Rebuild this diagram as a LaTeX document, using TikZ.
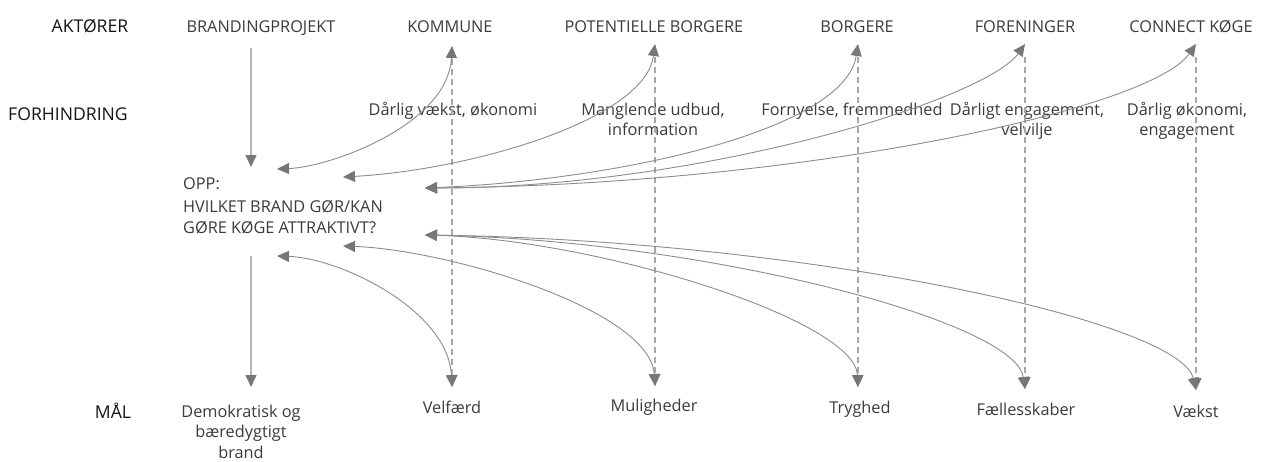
\documentclass[tikz,border=0pt]{standalone}
\usepackage{fontspec}
\setmainfont{Open Sans}
\usetikzlibrary{arrows.meta}
\definecolor{txt}{HTML}{3A3A3A}
\definecolor{hdr}{HTML}{141414}
\definecolor{ln}{HTML}{8C8C8C}
\definecolor{dsh}{HTML}{A8A8A8}
\definecolor{ahc}{HTML}{777777}
\begin{document}
\begin{tikzpicture}[x=1pt,y=-1pt,
  font=\fontsize{16.3}{20.5}\selectfont,
  lbl/.style={text=txt,inner sep=0pt,anchor=base,align=center},
  rowlbl/.style={text=hdr,inner sep=0pt,anchor=base,font=\fontsize{17.6}{20.5}\selectfont},
  bi/.style={draw=ln,line width=0.9pt,
    {Triangle[length=12pt,width=11pt,color=ahc]}-{Triangle[length=12pt,width=11pt,color=ahc]}},
  dsharrow/.style={draw=dsh,line width=1.3pt,dash pattern=on 6pt off 4pt,
    -{Triangle[length=12pt,width=11pt,color=ahc]}},
  solidarrow/.style={draw=dsh!85,line width=1.5pt,
    -{Triangle[length=12pt,width=11pt,color=ahc]}}]
\useasboundingbox (0,0) rectangle (1261,461);

% row labels
\node[rowlbl] (rA) at (90,32) {AKTØRER};
\node[rowlbl] (rF) at (68,120) {FORHINDRING};
\node[rowlbl] (rM) at (113,418) {MÅL};

% actors
\node[lbl] (a0) at (261,32) {BRANDINGPROJEKT};
\node[lbl] (a1) at (450,32) {KOMMUNE};
\node[lbl] (a2) at (654,32) {POTENTIELLE BORGERE};
\node[lbl] (a3) at (857,32) {BORGERE};
\node[lbl] (a4) at (1025,32) {FORENINGER};
\node[lbl] (a5) at (1191,32) {CONNECT KØGE};

% obstacles (base = last line)
\node[lbl] (o1) at (453,115) {Dårlig vækst, økonomi};
\node[lbl] (o2) at (653,135.5) {Manglende udbud,\\information};
\node[lbl] (o3) at (852,115) {Fornyelse, fremmedhed};
\node[lbl] (o4) at (1027,135.5) {Dårligt engagement,\\velvilje};
\node[lbl] (o5) at (1187,135.5) {Dårlig økonomi,\\engagement};

% OPP
\node[lbl,anchor=base west,align=left] (opp) at (183,233)
  {OPP:\\[3pt]HVILKET BRAND GØR/KAN\\GØRE KØGE ATTRAKTIVT?};

% goals
\node[lbl] (g0) at (241,458) {Demokratisk og\\bæredygtigt\\brand};
\node[lbl] (g1) at (452,413) {Velfærd};
\node[lbl] (g2) at (654,411) {Muligheder};
\node[lbl] (g3) at (860,413) {Tryghed};
\node[lbl] (g4) at (1026,415) {Fællesskaber};
\node[lbl] (g5) at (1196,417) {Vækst};

% connector end points
\coordinate (br1) at (251,48);
\coordinate (br2) at (251,167);
\coordinate (br3) at (251,256);
\coordinate (br4) at (251,387);

\coordinate (t1) at (452,46);
\coordinate (t2) at (655,44);
\coordinate (t3) at (858,44);
\coordinate (t4) at (1025,44);
\coordinate (t5) at (1196,44);

\coordinate (s1) at (452,59);
\coordinate (s2) at (655,57);
\coordinate (s3) at (858,57);
\coordinate (s4) at (1025,57);
\coordinate (s5) at (1196,57);

\coordinate (b1) at (452,387);
\coordinate (b2) at (655,386);
\coordinate (b3) at (858,387);
\coordinate (b4) at (1025,389);
\coordinate (b5) at (1196,390);

\coordinate (c1) at (277,169);
\coordinate (c2) at (343,177);
\coordinate (c3) at (425,188);
\coordinate (d1) at (277,256);
\coordinate (d2) at (343,246);
\coordinate (d3) at (425,235);

% branding project arrows
\draw[solidarrow] (br1) -- (br2);
\draw[solidarrow] (br3) -- (br4);

% dashed actor -> goal
\foreach \i in {1,...,5} \draw[dsharrow] (s\i) -- (b\i);

% curves to actors
\draw[bi] (c1) .. controls (330,167) and (448,125) .. (t1);
\draw[bi] (c2) .. controls (470,170) and (645,120) .. (t2);
\draw[bi] (c3) .. controls (620,180) and (845,130) .. (t3);
\draw[bi] (c3) .. controls (700,188) and (985,100) .. (t4);
\draw[bi] (c3) .. controls (800,185) and (1150,110) .. (t5);

% curves to goals
\draw[bi] (d1) .. controls (340,258) and (448,310) .. (b1);
\draw[bi] (d2) .. controls (450,250) and (650,310) .. (b2);
\draw[bi] (d3) .. controls (600,240) and (855,320) .. (b3);
\draw[bi] (d3) .. controls (700,240) and (1015,320) .. (b4);
\draw[bi] (d3) .. controls (800,240) and (1180,320) .. (b5);
\end{tikzpicture}
\end{document}
